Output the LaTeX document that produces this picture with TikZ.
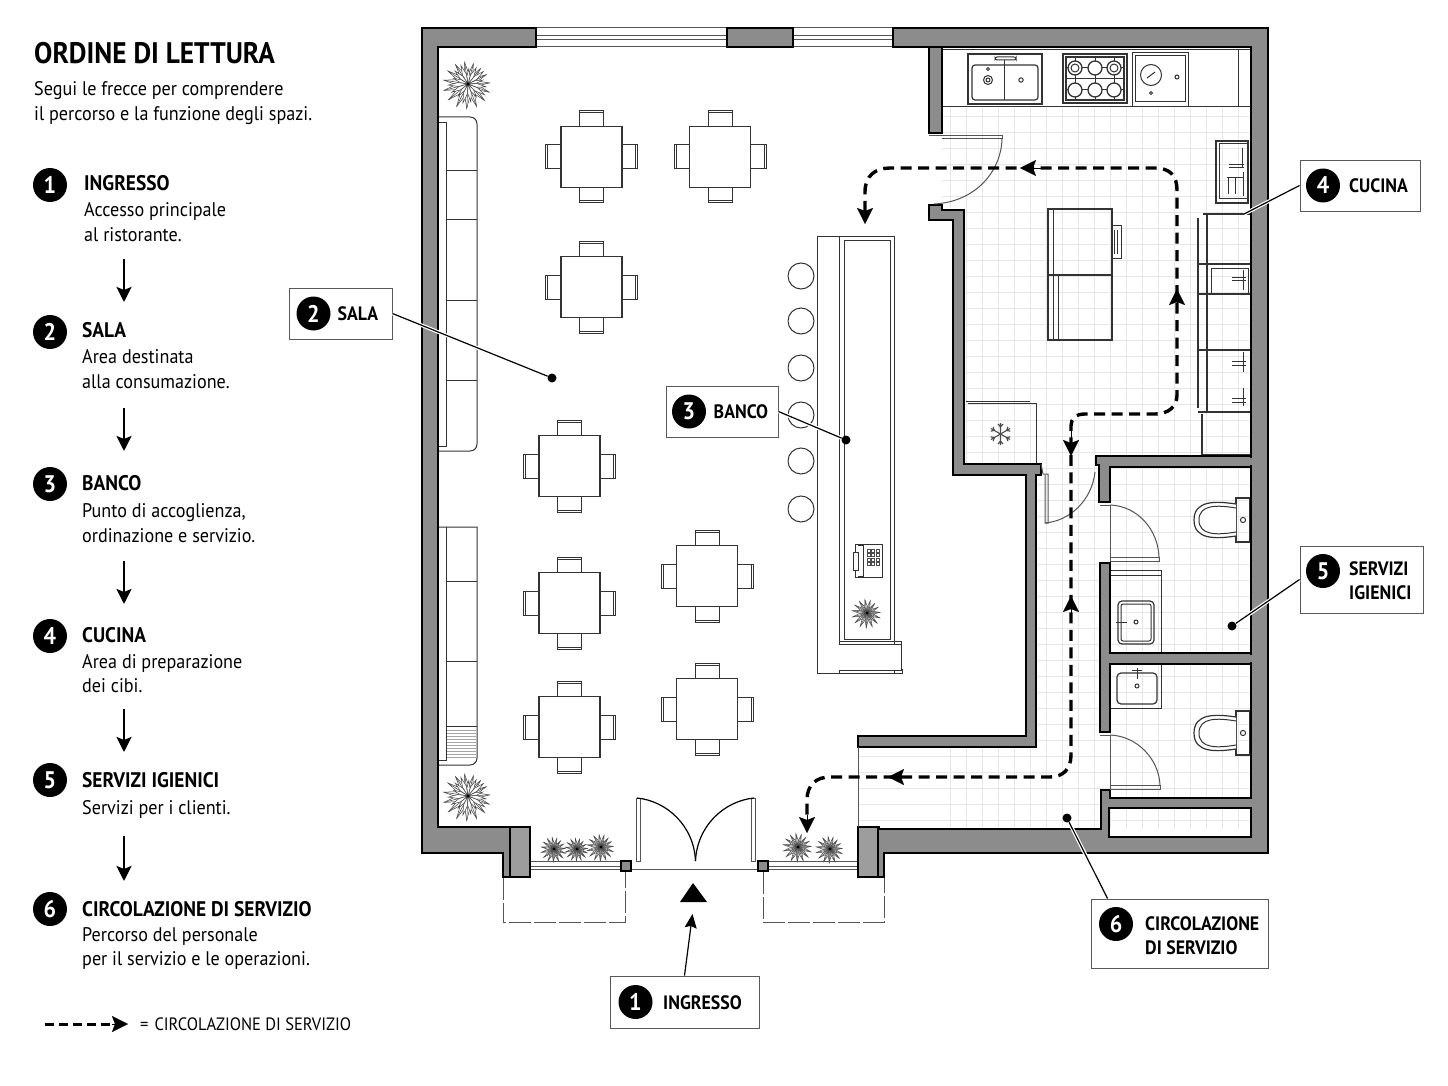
\documentclass[tikz,border=0pt]{standalone}
\usepackage{fontspec}
\setmainfont{PT Sans}[FakeStretch=0.92]
\usetikzlibrary{arrows.meta,calc}
\definecolor{wallgray}{HTML}{8C8C8C}
\definecolor{tile}{HTML}{E7E7E7}
\definecolor{lineg}{HTML}{555555}
\tikzset{
 wall/.style={fill=wallgray,draw=black,line width=2.6pt,line join=miter},
 pier/.style={fill=wallgray!85,draw=black,line width=2.6pt},
 fixln/.style={draw=black!80,line width=1pt},
 thinln/.style={draw=black!70,line width=.7pt},
 doorln/.style={draw=lineg,line width=1pt},
 leaf/.style={fill=white,draw=black!75,line width=.5pt},
 svcpath/.style={draw=black,line width=3.4pt,dash pattern=on 11pt off 6.5pt},
 svchead/.style={draw=black,line width=.1pt,-{Stealth[length=16pt,width=16pt,inset=3pt]}},
 readarrow/.style={draw=black,line width=2.6pt,-{Stealth[length=15pt,width=15pt,inset=3pt]}},
 halo/.style={draw=white,line width=3.6pt},
 leader/.style={draw=black,line width=1.2pt},
 dotn/.style={circle,fill=black,inner sep=0pt,minimum size=9pt},
 badge/.style={circle,fill=black,text=white,inner sep=0pt,minimum size=34pt,font=\fontsize{24}{24}\selectfont\bfseries},
 lbox/.style={draw=black!65,fill=white,line width=.9pt,inner sep=0pt},
 ltitle/.style={anchor=base west,inner sep=0pt,font=\fontsize{21.1}{21}\selectfont\bfseries},
 boxtxt/.style={anchor=base west,inner sep=0pt,font=\fontsize{19.4}{20}\selectfont\bfseries},
 ldesc/.style={anchor=base west,inner sep=0pt,font=\fontsize{19.7}{20}\selectfont},
 heading/.style={anchor=base west,inner sep=0pt,font=\fontsize{29.7}{30}\selectfont\bfseries},
}
\newcommand\qtable[2]{%
 \begin{scope}[shift={(#1,#2)}]
 \foreach \r in {0,90,180,270}{
  \begin{scope}[rotate=\r]
   \draw[fixln] (-12,-30.5) -- (-12,-46) -- (12,-46) -- (12,-30.5);
   \draw[fixln] (-12,-44) -- (12,-44);
  \end{scope}}
 \draw[fixln,fill=white,line width=1.2pt] (-30.5,-30.5) rectangle (30.5,30.5);
 \end{scope}}
\newcommand\plantat[3]{%
 \begin{scope}[shift={(#1,#2)}]
 \foreach \a in {3,27,...,339}{
  \pgfmathsetmacro\rr{#3*(0.78+0.22*abs(sin(\a*7)))}
  \draw[leaf,rotate=\a] (0,0) -- (.55*\rr,.09*\rr) -- (\rr,0) -- (.55*\rr,-.09*\rr) -- cycle;
  \draw[leaf,rotate=\a] (0,0) -- (\rr,0);}
 \ifdim #3pt>16pt
 \foreach \a in {15,39,...,351}{
  \pgfmathsetmacro\rr{#3*(0.55+0.25*abs(cos(\a*5)))}
  \draw[leaf,rotate=\a] (0,0) -- (.5*\rr,.1*\rr) -- (\rr,0) -- (.5*\rr,-.1*\rr) -- cycle;}
 \fi
 \fill[black] (0,0) circle[radius=1.6pt];
 \end{scope}}
\newcommand\wcat[1]{%
 \begin{scope}[shift={(0,#1)}]
  \draw[fixln,line width=1.2pt] (1236,-22) rectangle (1250,22);
  \draw[fixln,line width=1.2pt,fill=white] (1236,-16) .. controls (1216,-19) and (1194,-20) .. (1194,0) .. controls (1194,20) and (1216,19) .. (1236,16);
  \draw[fixln] (1236,-12) .. controls (1218,-15) and (1199,-16) .. (1199,0) .. controls (1199,16) and (1218,15) .. (1236,12);
  \draw[fixln] (1243,0) circle[radius=2.6pt];
 \end{scope}}
\newcommand\svcarrow[4]{\draw[svchead] (#1,#2) -- (#3,#4);}
\begin{document}
\begin{tikzpicture}[x=1pt,y=-1pt]
\path[use as bounding box,fill=white] (0,0) rectangle (1448,1086);
% floor tiles
\begin{scope}
 \clip (942,108) -- (1251,108) -- (1251,829) -- (858,829) -- (858,747) -- (1036,747) -- (1036,464) -- (964,464) -- (964,210) -- (942,205) -- cycle;
 \foreach \x in {950,966,...,1250} \draw[tile,line width=.9pt] (\x,100) -- (\x,830);
 \foreach \y in {116,132,...,830} \draw[tile,line width=.9pt] (850,\y) -- (1255,\y);
\end{scope}
% tables
\qtable{591.5}{157}\qtable{720}{157}\qtable{591.5}{287}\qtable{569.5}{466}
\qtable{569.5}{603}\qtable{707}{576}\qtable{569.5}{727}\qtable{707}{709}
% sofas
\draw[fixln] (439,117) -- (470,117) .. controls (474,117) and (477,120) .. (477,124) -- (477,444) .. controls (477,448) and (474,451) .. (470,451) -- (439,451);
\draw[fixln] (439,123) -- (446,123) -- (446,446) -- (439,446);
\foreach \y in {171,220,300,380} \draw[fixln] (446,\y) -- (477,\y);
\draw[fixln] (439,527) -- (477,527) -- (477,758) .. controls (477,762) and (474,765) .. (470,765) -- (439,765);
\draw[fixln] (446,527) -- (446,760) -- (439,760);
\foreach \y in {581,661,726} \draw[fixln] (446,\y) -- (477,\y);
\foreach \y in {730,733,...,757} \draw[thinln,draw=black!35] (447,\y) -- (476,\y);
% plants
\plantat{468}{84}{25}\plantat{468}{796}{25}
\plantat{554}{849}{13}\plantat{577}{849}{12}\plantat{601}{847}{14}
\plantat{798}{847}{15}\plantat{830}{849}{14}
% bar
\draw[fixln] (817,236) rectangle (894,673);
\draw[fixln] (839,236) -- (839,673);
\draw[fixln] (844,240) -- (844,639) -- (890,639) -- (890,240) -- cycle;
\draw[fixln,fill=white] (839,644) -- (901,644) -- (901,670) -- (839,670);
\draw[fixln] (817,673) -- (902,673) -- (902,669);
\draw[fixln] (839,641) -- (901,641) -- (901,644);
\foreach \y in {276,321,368,415,461,509} \draw[fixln,fill=white] (801,\y) circle[radius=13pt];
\plantat{867}{613}{15}
% phone
\draw[fixln] (855,544) rectangle (882,577);
\draw[fixln,fill=white] (853,552) rectangle (858,570);
\draw[fixln] (858,545) -- (863,545) -- (863,576) -- (858,576);
\foreach \i in {0,1,2} \foreach \j in {0,1,2,3} \draw[black!70,line width=.8pt] (867+\i*4.5,549+\j*4.5) rectangle +(3,3);
% kitchen counter
\draw[fixln] (942,50) -- (1251,50);
\draw[fixln] (942,107) -- (1251,107);
\draw[fixln] (1238,50) -- (1238,107);
\draw[fixln,line width=1.2pt] (968,54) rectangle (1042,104);
\draw[fixln,line width=1.2pt,rounded corners=3pt] (972,65) rectangle (1038,100);
\draw[fixln] (1004.5,65) -- (1004.5,100);
\draw[fixln,rounded corners=2pt] (995,57) rectangle (1016,60);
\draw[fixln,line width=1.6pt] (1004.5,60) -- (1004.5,68);
\draw[fixln] (988,80) circle[radius=4.5pt];
\draw[fixln] (988,80) circle[radius=2pt];
\draw[fixln] (988,69) circle[radius=1.5pt];
\draw[fixln] (1021,80) circle[radius=2.2pt];
\draw[fixln,line width=1.2pt] (1063,54) rectangle (1127,103);
\draw[fixln,line width=1.2pt] (1066,57) rectangle (1124,100);
\draw[fixln] (1066,79) -- (1124,79);
\foreach \x in {1075,1095,1114} {\draw[fixln] (\x,57) -- (\x,100);}
\foreach \y in {68,90} {\draw[fixln] (1066,\y) -- (1124,\y);}
\foreach \x in {1075,1095,1114} {\draw[fixln,line width=1.3pt,fill=white] (\x,68) circle[radius=7pt];\draw[fixln,line width=1.3pt,fill=white] (\x,90) circle[radius=7pt];}
\draw[fixln] (1075,68) circle[radius=4pt];
\draw[fixln] (1114,68) circle[radius=4pt];
\draw[fixln,fill=white] (1132,53) rectangle (1188,107);
\draw[fixln] (1135,56) rectangle (1185,102);
\draw[fixln] (1151,75) circle[radius=10.5pt];
\draw[fixln] (1147,78) -- (1155,72);
\draw[fixln] (1177,77) circle[radius=2pt];
\draw[fixln] (1151,93) circle[radius=1.5pt];
% side units
\draw[fixln,line width=1.2pt] (1216,141) rectangle (1248,203);
\draw[fixln] (1219,144) rectangle (1248,199);
\draw[fixln] (1242,148) -- (1242,168);\draw[fixln] (1229,165) -- (1244,165);\draw[fixln] (1229,168) -- (1244,168);
\draw[fixln] (1228,178) -- (1228,194) (1235,178) -- (1235,194) (1227,178) -- (1243,178) (1243,172) -- (1243,196);
\draw[fixln,line width=1.2pt] (1203,214) -- (1251,214);
\draw[fixln,line width=1.6pt] (1198,218) -- (1198,408);
\draw[fixln,line width=1.2pt] (1207,214) -- (1207,412);
\foreach \y in {264,294,350,412} \draw[fixln,line width=1.2pt] (1198,\y) -- (1251,\y);
\draw[fixln] (1211,268) rectangle (1248,294);
\draw[fixln] (1232,277) -- (1246,277) (1232,280) -- (1246,280) (1243,270) -- (1243,290);
\draw[fixln] (1232,361) -- (1246,361) (1232,365) -- (1246,365) (1243,352) -- (1243,372);
\draw[fixln] (1232,398) -- (1246,398) (1232,402) -- (1246,402) (1243,388) -- (1243,406);
\draw[fixln,line width=1.2pt] (1202,414) -- (1202,455) -- (1251,455);
% island
\draw[fixln,line width=1.2pt] (1048,209) rectangle (1112,340);
\draw[fixln,line width=1.2pt] (1048,275) -- (1112,275);
\draw[fixln] (1053,209) -- (1053,340);
\draw[fixln] (1058,275) -- (1058,340);
\draw[fixln] (1112,226) rectangle (1121,258);
\draw[fixln] (1114,230) -- (1114,254) (1117,230) -- (1117,254);
% freezer
\draw[fixln] (966,401) -- (1030,401) (968,403) -- (1036,403) -- (1036,464);
\begin{scope}[shift={(1000.5,434)}]
 \foreach \a in {30,90,...,330} {\draw[thinln,line width=1.1pt,rotate=\a] (0,0) -- (11,0) (7,0) -- (10,2.5) (7,0) -- (10,-2.5);}
\end{scope}
% toilet fixtures
\wcat{520}\wcat{733}
\draw[fixln] (1110,570) -- (1161,570) -- (1161,653);
\draw[fixln] (1110,575) -- (1161,575);
\draw[fixln,line width=1.2pt,rounded corners=4pt] (1118,601) rectangle (1154,644);
\draw[fixln,rounded corners=2pt] (1121,604) rectangle (1151,641);
\draw[fixln] (1116,622) -- (1127,622);\draw[fixln] (1136,622) circle[radius=2pt];
\draw[fixln] (1161,664) -- (1161,708) -- (1110,708);
\draw[fixln,line width=1.2pt,rounded corners=4pt] (1117,673) rectangle (1157,704);
\draw[fixln] (1132,670) -- (1142,670) (1137,668) -- (1137,679);\draw[fixln] (1137,686) circle[radius=2pt];
% windows
\foreach \xa/\xb in {536/727,793/893} {
 \draw[doorln] (\xa,28) -- (\xb,28) (\xa,47) -- (\xb,47);
 \draw[doorln] (\xa,36) -- (\xb,36) (\xa,39.5) -- (\xb,39.5);
 \draw[thinln] (\xa,28) -- (\xa,47) (\xb,28) -- (\xb,47);
}
\foreach \xa/\xb in {530/621,767/858} {
 \draw[doorln] (\xa,861) -- (\xb,861) (\xa,866) -- (\xb,866) (\xa,869.5) -- (\xb,869.5);
}
\draw[doorln,dash pattern=on 22pt off 3pt] (503,878) -- (503,922) -- (625,922) -- (625,872);
\draw[doorln,dash pattern=on 22pt off 3pt] (763,872) -- (763,922) -- (884,922) -- (884,878);
% entry doors
\draw[doorln] (632,869) -- (758,869);
\draw[doorln] (640,861) -- (640,798) -- (636,798) -- (636,861) -- cycle;
\draw[doorln] (751,861) -- (751,798) -- (755,798) -- (755,861) -- cycle;
\draw[draw=black,line width=1.2pt] (637,798) .. controls (667,801) and (694,826) .. (695.5,861);
\draw[draw=black,line width=1.2pt] (754,798) .. controls (724,801) and (697,826) .. (695.5,861);
\draw[fill=wallgray,draw=black,line width=2pt] (621,861) rectangle (631,871);
\draw[fill=wallgray,draw=black,line width=2pt] (758,861) rectangle (768,871);
% walls
\draw[wall] (422,28) -- (536,28) -- (536,47) -- (438,47) -- (438,827) -- (510,827) -- (530,827) -- (530,877) -- (503,877) -- (503,853) -- (422,853) -- cycle;
\draw[wall] (727,28) -- (793,28) -- (793,47) -- (727,47) -- cycle;
\draw[wall,even odd rule] (893,28) -- (1268,28) -- (1268,853) -- (884,853) -- (884,877) -- (858,877) -- (858,827) -- (879,827) -- (879,829) -- (1101,829) -- (1101,790) -- (1110,790) -- (1110,798) -- (1251,798) -- (1251,47) -- (893,47) -- cycle
 (1109,808) rectangle (1251,837);
\draw[pier] (510,827) rectangle (530,877);
\draw[pier] (858,827) rectangle (878,877);
\draw[wall] (929,47) -- (942,47) -- (942,133) -- (929,133) -- cycle;
\draw[wall] (929,205) -- (942,205) -- (942,210) -- (964,210) -- (964,464) -- (1041,464) -- (1041,475) -- (1036,475) -- (1036,747) -- (858,747) -- (858,736) -- (1026,736) -- (1026,475) -- (953,475) -- (953,220) -- (929,220) -- cycle;
\draw[wall] (1096,456) -- (1251,456) -- (1251,467) -- (1110,467) -- (1110,502) -- (1099,502) -- (1099,465) -- (1096,465) -- cycle;
\draw[wall] (1100,563) -- (1110,563) -- (1110,653) -- (1251,653) -- (1251,664) -- (1110,664) -- (1110,732) -- (1100,732) -- cycle;
\fill[wallgray] (1249,457.6) rectangle (1253,465.4);
\fill[wallgray] (1249,654.6) rectangle (1253,662.4);
% interior doors
\draw[doorln] (858,747) -- (858,827);
\draw[doorln] (929,136) -- (1002,136) -- (1002,139) -- (942,139);
\draw[doorln] (1002,139) .. controls (1001,172) and (975,202) .. (934,204);
\draw[doorln] (1041,464) -- (1043,474) -- (1048,474) -- (1048,523) -- (1045,523) -- (1045,475);
\draw[doorln] (1045,523) .. controls (1070,521) and (1092,500) .. (1095,472);
\draw[doorln] (1100,505) -- (1110,505) (1110,505) -- (1110,562) (1110,557) -- (1159,557) -- (1159,561) -- (1110,561);
\draw[doorln] (1110,505) .. controls (1138,506) and (1158,530) .. (1159,557);
\draw[doorln] (1100,735) -- (1110,735) (1110,735) -- (1110,790) (1110,785) -- (1160,785) -- (1160,789) -- (1110,789);
\draw[doorln] (1110,735) .. controls (1138,736) and (1159,760) .. (1160,785);
% service route
\coordinate (r0) at (807,822);
\coordinate (r1) at (1071,755);
\coordinate (r2) at (1177,395);
\coordinate (r3) at (865,212);
\draw[svcpath] (r3) -- (865,192) .. controls (865,176) and (875,168) .. (890,168) -- (1155,168) .. controls (1170,168) and (1177,176) .. (1177,190) -- (r2) .. controls (1177,407) and (1168,414) .. (1155,414) -- (1085,414) .. controls (1075,414) and (1071,419) .. (1071,426) -- (r1) .. controls (1071,769) and (1063,777) .. (1050,777) -- (830,777) .. controls (816,777) and (807,785) .. (807,800) -- (r0);
\svcarrow{865}{205}{865}{224}
\svcarrow{1045}{168}{1020}{168}
\svcarrow{1177}{310}{1177}{289}
\svcarrow{1071}{430}{1071}{456}
\svcarrow{1071}{615}{1071}{596}
\svcarrow{910}{777}{888}{777}
\svcarrow{807}{815}{807}{833}
% entry marker
\fill[black] (693,883) -- (707,902) -- (680,902) -- cycle;
% callouts
\node[lbox,minimum width=149pt,minimum height=52pt] (boxIng) at (684.5,1002) {};
\node[lbox,minimum width=103pt,minimum height=51pt] (boxSal) at (340.5,313.5) {};
\node[lbox,minimum width=112pt,minimum height=51pt] (boxBan) at (722,411.5) {};
\node[lbox,minimum width=120pt,minimum height=51pt] (boxCuc) at (1360,185.5) {};
\node[lbox,minimum width=123pt,minimum height=67pt] (boxSer) at (1361.5,579.5) {};
\node[lbox,minimum width=177pt,minimum height=69pt] (boxCir) at (1179.5,933.5) {};
\node[dotn] (dotSal) at (552,378) {};
\node[dotn] (dotBan) at (846,440) {};
\node[dotn] (dotSer) at (1232,626) {};
\node[dotn] (dotCir) at (1067,818) {};
\coordinate (tipCuc) at (1244,214);
\coordinate (tipIng) at (692.5,914);
\foreach \a/\b in {boxSal.east/dotSal,boxBan.east/dotBan,boxCuc.west/tipCuc,boxSer.west/dotSer} {
 \draw[halo] (\a) -- (\b);\draw[leader] (\a) -- (\b);}
\coordinate (cirTop) at ($(boxCir.north west)+(17,0)$);
\draw[halo] (cirTop) -- (dotCir);\draw[leader] (cirTop) -- (dotCir);
\draw[leader,-{Stealth[length=14pt,width=12pt,inset=2pt]}] (boxIng.north) -- (tipIng);
\node[badge] (bI) at (635.5,1002) {1};
\node[boxtxt] (tI) at (663,1009) {INGRESSO};
\node[badge] (bS) at (313.5,313.5) {2};
\node[boxtxt] (tS) at (337.5,320.5) {SALA};
\node[badge] (bB) at (689,411.5) {3};
\node[boxtxt] (tB) at (713.5,418.5) {BANCO};
\node[badge] (bC) at (1323,185.5) {4};
\node[boxtxt] (tC) at (1349,192.5) {CUCINA};
\node[badge] (bV) at (1323,571) {5};
\node[boxtxt] (tV1) at (1349,575) {SERVIZI};
\node[boxtxt] (tV2) at (1349,599) {IGIENICI};
\node[badge] (bR) at (1116,924) {6};
\node[boxtxt] (tR1) at (1145,930) {CIRCOLAZIONE};
\node[boxtxt] (tR2) at (1145,954) {DI SERVIZIO};
% legend
\node[heading] (hd) at (34,64) {ORDINE DI LETTURA};
\node[ldesc] (sub1) at (34,96) {Segui le frecce per comprendere};
\node[ldesc] (sub2) at (34,121) {il percorso e la funzione degli spazi.};
\node[badge] (l1) at (50,185) {1};
\node[ltitle] (l1t) at (84,191) {INGRESSO};
\node[ldesc] (l1a) at (84,217) {Accesso principale};
\node[ldesc] (l1b) at (84,241) {al ristorante.};
\node[badge] (l2) at (50,332) {2};
\node[ltitle] (l2t) at (82,337) {SALA};
\node[ldesc] (l2a) at (82,363) {Area destinata};
\node[ldesc] (l2b) at (82,388) {alla consumazione.};
\node[badge] (l3) at (50,484) {3};
\node[ltitle] (l3t) at (82,490) {BANCO};
\node[ldesc] (l3a) at (82,517) {Punto di accoglienza,};
\node[ldesc] (l3b) at (82,542) {ordinazione e servizio.};
\node[badge] (l4) at (50,636) {4};
\node[ltitle] (l4t) at (82,642) {CUCINA};
\node[ldesc] (l4a) at (82,668) {Area di preparazione};
\node[ldesc] (l4b) at (82,692) {dei cibi.};
\node[badge] (l5) at (50,780) {5};
\node[ltitle] (l5t) at (82,787) {SERVIZI IGIENICI};
\node[ldesc] (l5a) at (82,814) {Servizi per i clienti.};
\node[badge] (l6) at (50,909) {6};
\node[ltitle] (l6t) at (82,916) {CIRCOLAZIONE DI SERVIZIO};
\node[ldesc] (l6a) at (82,941) {Percorso del personale};
\node[ldesc] (l6b) at (82,965) {per il servizio e le operazioni.};
\foreach \ya/\yb [count=\i] in {259/302,408/451,561/604,709/752,836/881} {
 \coordinate (sa\i) at (124,\ya);\coordinate (sb\i) at (124,\yb);
 \draw[readarrow] (sa\i) -- (sb\i);}
\coordinate (ka) at (45,1024);\coordinate (kb) at (128,1024);
\draw[svcpath,line width=3pt,dash pattern=on 9pt off 5pt] (ka) -- (115,1024);
\draw[svchead] (112,1024) -- (kb);
\node[ldesc,font=\fontsize{17.9}{18}\selectfont] (kt) at (140,1030) {=\hspace{6pt}CIRCOLAZIONE DI SERVIZIO};
\end{tikzpicture}
\end{document}
